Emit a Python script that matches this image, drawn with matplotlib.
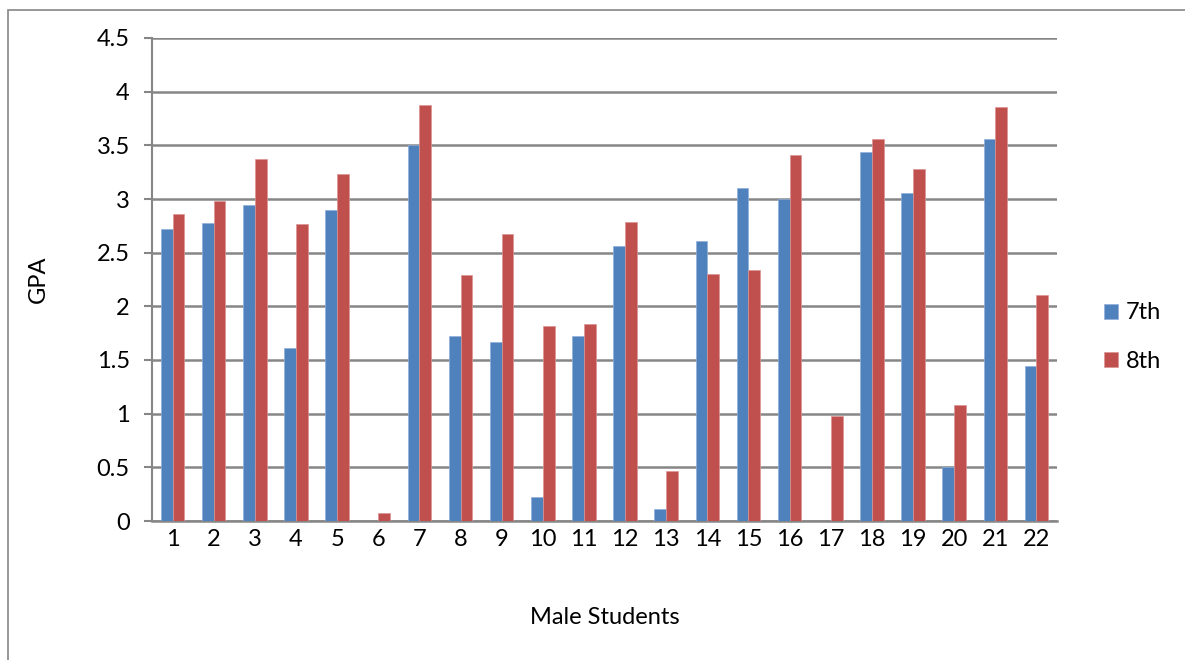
import numpy as np
import matplotlib
matplotlib.use("Agg")
import matplotlib.pyplot as plt
from matplotlib.patches import Rectangle

# GPA per student, 7th and 8th grade
students = [str(i) for i in range(1, 23)]
gpa_7th = [2.72, 2.78, 2.94, 1.61, 2.90, 0.0, 3.50, 1.72, 1.67, 0.22, 1.72,
           2.56, 0.11, 2.61, 3.10, 3.00, 0.0, 3.44, 3.06, 0.50, 3.56, 1.44]
gpa_8th = [2.86, 2.98, 3.37, 2.77, 3.23, 0.07, 3.88, 2.29, 2.67, 1.82, 1.84,
           2.79, 0.47, 2.30, 2.34, 3.41, 0.98, 3.56, 3.28, 1.08, 3.86, 2.11]
series_names = ["7th", "8th"]
yticks = [0, 0.5, 1, 1.5, 2, 2.5, 3, 3.5, 4, 4.5]

plt.rcParams['font.family'] = ['Lato', 'DejaVu Sans']
fs = 17
grid_col = "#868686"

fig = plt.figure(figsize=(11.85, 6.6), dpi=100)
ax = fig.add_axes([152 / 1185, 1 - 521 / 660, (1057 - 152) / 1185, (521 - 38) / 660])

# outer chart border
fig.patches.append(Rectangle((8 / 1185, -0.1), 1.2, 1 - 10 / 660 + 0.1,
                             transform=fig.transFigure, fill=False,
                             edgecolor=grid_col, linewidth=1.2))

x = np.arange(len(students))
w = 1 / 3.5
b1 = ax.bar(x - w / 2, gpa_7th, w, color="#4F81BD", edgecolor="#8EAEDB",
            linewidth=0.5, label=series_names[0], zorder=3)
b2 = ax.bar(x + w / 2, gpa_8th, w, color="#C0504D", edgecolor="#DB9492",
            linewidth=0.5, label=series_names[1], zorder=3)

ax.set_xlim(-0.5, len(students) - 0.5)
ax.set_ylim(0, 4.5)
ax.set_yticks(yticks)
ax.set_yticklabels([f"{v:g}" for v in yticks], fontsize=fs)
ax.set_xticks(x)
ax.set_xticklabels(students, fontsize=fs)
ax.tick_params(axis='x', length=0, pad=6)
ax.tick_params(axis='y', length=6, width=1.5, color=grid_col, pad=10)
ax.yaxis.grid(True, color=grid_col, linewidth=1.8)
ax.set_axisbelow(True)

for s in ['top', 'right']:
    ax.spines[s].set_visible(False)
ax.spines['left'].set_color(grid_col)
ax.spines['left'].set_linewidth(1.5)
ax.spines['bottom'].set_color(grid_col)
ax.spines['bottom'].set_linewidth(1.8)

ax.set_ylabel("GPA", fontsize=fs, labelpad=34)
ax.set_xlabel("Male Students", fontsize=fs, labelpad=41)

fig.legend(handles=[b1, b2], loc='center left',
           bbox_to_anchor=(1092 / 1185, 1 - 337 / 660), frameon=False,
           fontsize=fs, handlelength=0.6, handleheight=0.6,
           handletextpad=0.35, labelspacing=1.15, borderpad=0)

fig.savefig("out.png", dpi=100)
